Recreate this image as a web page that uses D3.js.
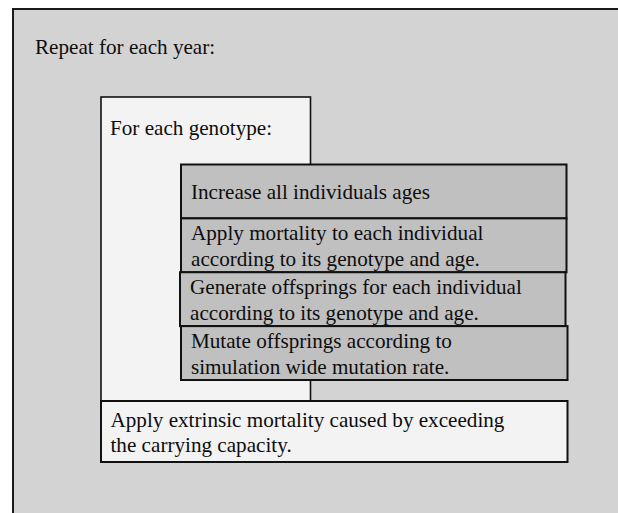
<!DOCTYPE html>
<html>
<head>
<meta charset="utf-8">
<script src="https://cdn.jsdelivr.net/npm/d3@7"></script>
<style>
  html, body { margin: 0; padding: 0; background: #ffffff; }
  svg { display: block; }
  text { font-family: "Liberation Serif", "Times New Roman", serif; font-size: 21.15px; fill: #0d0d0d; }
</style>
</head>
<body>
<div id="chart"></div>
<script>
// Diagram content
const outerTitle = ["Repeat for each year:"];
const loopTitle = ["For each genotype:"];
const steps = [
  ["Increase all individuals ages"],
  ["Apply mortality to each individual", "according to its genotype and age."],
  ["Generate offsprings for each individual", "according to its genotype and age."],
  ["Mutate offsprings according to", "simulation wide mutation rate."]
];
const finalStep = ["Apply extrinsic mortality caused by exceeding", "the carrying capacity."];

const W = 618, H = 513;
const svg = d3.select("#chart").append("svg").attr("width", W).attr("height", H);

// Outer box
svg.append("rect")
  .attr("x", 13).attr("y", 9).attr("width", W + 10).attr("height", H + 10)
  .attr("fill", "#d3d3d3").attr("stroke", "#1a1a1a").attr("stroke-width", 2);
svg.append("text").attr("x", 35).attr("y", 54).text(outerTitle[0]);

// Genotype loop box
svg.append("rect")
  .attr("x", 101).attr("y", 97).attr("width", 209.5).attr("height", 304)
  .attr("fill", "#f3f3f3").attr("stroke", "#111").attr("stroke-width", 1.6);
svg.append("text").attr("x", 110).attr("y", 135).text(loopTitle[0]);

// Step rows
const y = d3.scaleBand().domain(d3.range(steps.length)).range([164.5, 380]).paddingInner(0);
const g = svg.append("g");
const rows = g.selectAll("g.step").data(steps).join("g").attr("class", "step");
rows.append("rect")
  .attr("x", (d, i) => i === 2 ? 180 : 181)
  .attr("y", (d, i) => y(i))
  .attr("width", (d, i) => i === 3 ? 386.5 : 385.5)
  .attr("height", y.bandwidth())
  .attr("fill", "#c0c0c0").attr("stroke", "#111").attr("stroke-width", 2);
rows.each(function(d, i) {
  const t = d3.select(this);
  const top = y(i), bh = y.bandwidth();
  const lh = 25.8;
  const base = d.length === 1 ? top + bh / 2 + 8 : top + 22;
  d.forEach((line, k) => {
    t.append("text").attr("x", i === 2 ? 190 : 191).attr("y", base + k * lh).text(line);
  });
});

// Final step
svg.append("rect")
  .attr("x", 101).attr("y", 401).attr("width", 466.5).attr("height", 61)
  .attr("fill", "#f3f3f3").attr("stroke", "#111").attr("stroke-width", 2);
finalStep.forEach((line, k) => {
  svg.append("text").attr("x", 110.5).attr("y", 426.5 + k * 25.2).text(line);
});
</script>
</body>
</html>
